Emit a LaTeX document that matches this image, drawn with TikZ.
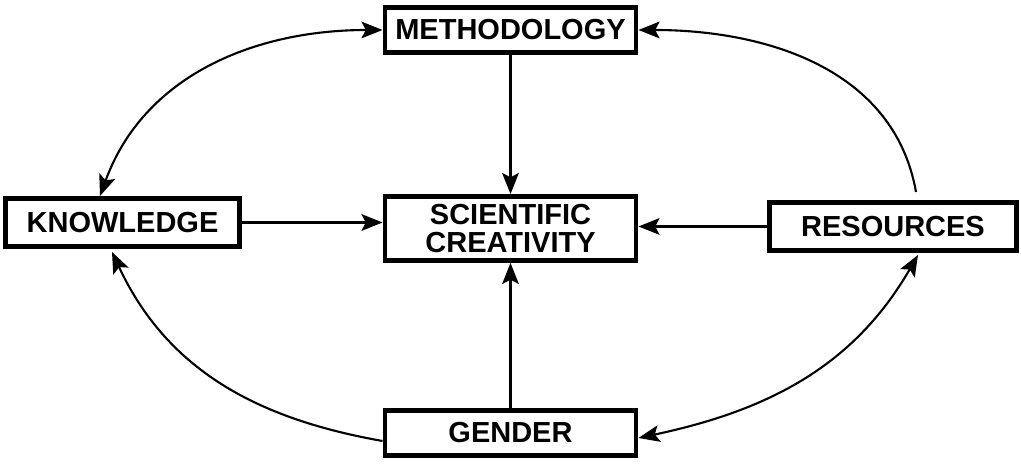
\documentclass[tikz,border=0pt]{standalone}
\usepackage{fontspec}
\setmainfont{Liberation Sans}
\usetikzlibrary{arrows.meta}

\begin{document}
\begin{tikzpicture}[>={Stealth[length=12pt,width=9.5pt,inset=2.5pt]},
	box/.style={draw,line width=2.8pt,inner sep=0pt,align=center,font=\bfseries\fontsize{16.5}{16}\selectfont},
	link/.style={line width=1.2pt}]
			\useasboundingbox (-10.21,-4.64) rectangle (10.21,4.64);
			\node[box,minimum width=5.02cm,minimum height=0.9cm] (meth) at (0,4.04) {METHODOLOGY};
			\node[box,minimum width=5.02cm,minimum height=1.28cm] (sc) at (0,0.07) {SCIENTIFIC\\CREATIVITY};
			\node[box,minimum width=5.02cm,minimum height=0.9cm] (gen) at (0,-4.02) {GENDER};
			\node[box,minimum width=4.68cm,minimum height=0.96cm] (know) at (-7.76,0.19) {KNOWLEDGE};
			\node[box,minimum width=4.94cm,minimum height=0.96cm] (res) at (7.65,0.11) {RESOURCES};
			\draw[->,link] (meth) -- (sc);
			\draw[->,link] (gen) -- (sc);
			\draw[->,link] (know.east) -- (know.east -| sc.west);
			\draw[->,link] (res.west) -- (res.west -| sc.east);
			\draw[<->,link] ([xshift=-0.45cm]know.north) to[out=70,in=180] (meth.west);
			\draw[->,link] ([xshift=0.46cm,yshift=0.16cm]res.north) to[out=100,in=0] (meth.east);
			\draw[->,link] ([yshift=-0.16cm]gen.west) to[out=170,in=-65] ([xshift=-0.21cm,yshift=-0.06cm]know.south);
			\draw[<->,link] ([yshift=-0.1cm]gen.east) to[out=12,in=-120] ([xshift=0.5cm,yshift=-0.04cm]res.south);
		\end{tikzpicture}
\end{document}
